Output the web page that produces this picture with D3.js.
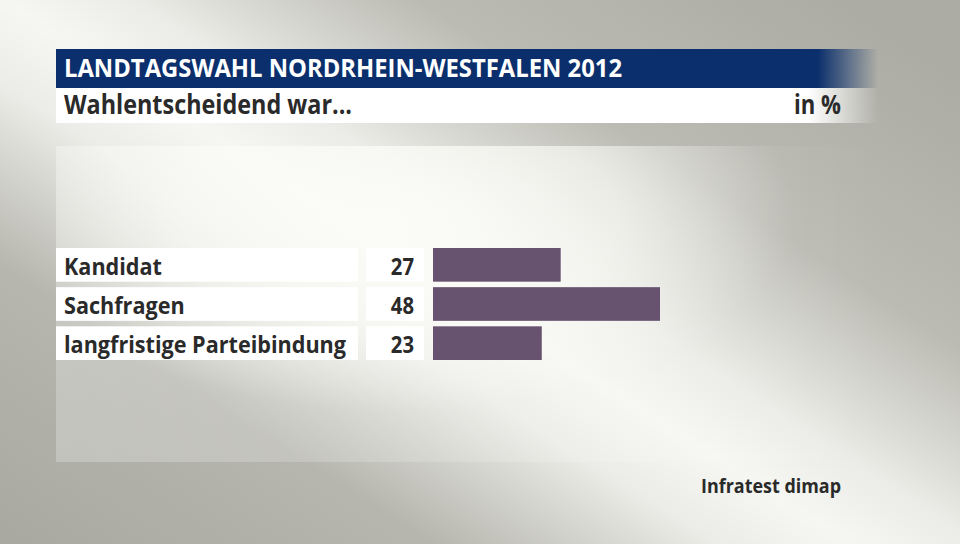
<!DOCTYPE html>
<html>
<head>
<meta charset="utf-8">
<script src="https://cdn.jsdelivr.net/npm/d3@7"></script>
<style>
html,body{margin:0;padding:0;background:#d8d8d2;}
svg{display:block;}
text{font-family:"Open Sans","Noto Sans",sans-serif;}
</style>
</head>
<body>
<svg id="chart" width="960" height="544"></svg>
<script>
const title = "LANDTAGSWAHL NORDRHEIN-WESTFALEN 2012";
const subtitle = "Wahlentscheidend war...";
const unitLabel = "in %";
const source = "Infratest dimap";
const categories = ["Kandidat", "Sachfragen", "langfristige Parteibindung"];
const values = [27, 48, 23];

const svg = d3.select("#chart");
const W = 960, H = 544;
const defs = svg.append("defs");

// diagonal light band background
const bg = defs.append("linearGradient").attr("id","bg")
  .attr("gradientUnits","userSpaceOnUse")
  .attr("x1",237).attr("y1",686).attr("x2",723).attr("y2",-72);
[[0,"#a9a9a1"],[0.25,"#b6b6ae"],[0.42,"#ebebe7"],[0.5,"#f6f6f2"],[0.58,"#ebebe7"],[0.75,"#bbbbb3"],[1,"#acaca4"]]
  .forEach(s=>bg.append("stop").attr("offset",s[0]).attr("stop-color",s[1]));
svg.append("rect").attr("width",W).attr("height",H).attr("fill","url(#bg)");

// lighter panel (base tint + bright glow in its upper-left part)
const pg = defs.append("linearGradient").attr("id","panel").attr("x1","0").attr("x2","1").attr("y1","0").attr("y2","0");
pg.append("stop").attr("offset","0").attr("stop-color","#ffffff").attr("stop-opacity",0.25);
pg.append("stop").attr("offset","0.7").attr("stop-color","#ffffff").attr("stop-opacity",0.12);
pg.append("stop").attr("offset","1").attr("stop-color","#ffffff").attr("stop-opacity",0.0);
svg.append("rect").attr("x",56).attr("y",146).attr("width",824).attr("height",316).attr("fill","url(#panel)");

const pr = defs.append("radialGradient").attr("id","panelGlow").attr("gradientUnits","userSpaceOnUse")
  .attr("cx",400).attr("cy",215).attr("r",360)
  .attr("gradientTransform","translate(400,215) scale(1.1,0.55) translate(-400,-215)");
pr.append("stop").attr("offset","0").attr("stop-color","#fbfbf7").attr("stop-opacity",0.9);
pr.append("stop").attr("offset","0.55").attr("stop-color","#fbfbf7").attr("stop-opacity",0.6);
pr.append("stop").attr("offset","1").attr("stop-color","#fbfbf7").attr("stop-opacity",0);
svg.append("rect").attr("x",56).attr("y",146).attr("width",824).attr("height",316).attr("fill","url(#panelGlow)");

// header bars
const hb = defs.append("linearGradient").attr("id","hblue").attr("gradientUnits","userSpaceOnUse")
  .attr("x1",56).attr("x2",878).attr("y1",0).attr("y2",0);
hb.append("stop").attr("offset", (818-56)/822).attr("stop-color","#0b2f6c").attr("stop-opacity",1);
hb.append("stop").attr("offset", 1).attr("stop-color","#0b2f6c").attr("stop-opacity",0);
svg.append("rect").attr("x",56).attr("y",49).attr("width",822).attr("height",39).attr("fill","url(#hblue)");

const hw = defs.append("linearGradient").attr("id","hwhite").attr("gradientUnits","userSpaceOnUse")
  .attr("x1",56).attr("x2",878).attr("y1",0).attr("y2",0);
hw.append("stop").attr("offset", (808-56)/822).attr("stop-color","#ffffff").attr("stop-opacity",1);
hw.append("stop").attr("offset", 1).attr("stop-color","#ffffff").attr("stop-opacity",0);
svg.append("rect").attr("x",56).attr("y",88).attr("width",822).attr("height",35).attr("fill","url(#hwhite)");

function fitTo(sel, target){
  sel.attr("textLength", target).attr("lengthAdjust","spacingAndGlyphs");
}
function condense(sel, k){
  sel.each(function(){
    const w = this.getComputedTextLength();
    d3.select(this).attr("textLength", w*k).attr("lengthAdjust","spacingAndGlyphs");
  });
}

svg.append("text").attr("x",64).attr("y",77).attr("fill","#ffffff")
  .attr("font-size",25).attr("font-weight",700).text(title)
  .call(fitTo, 558);

svg.append("text").attr("x",64).attr("y",114).attr("fill","#2a2a2a")
  .attr("font-size",26).attr("font-weight",700).text(subtitle)
  .call(fitTo, 288);

svg.append("text").attr("x",841).attr("y",114).attr("fill","#2a2a2a")
  .attr("font-size",26).attr("font-weight",700).attr("text-anchor","end").text(unitLabel)
  .call(condense, 0.85);

// rows
const y = d3.scaleBand().domain(categories).range([248, 360]).paddingInner(0.14).paddingOuter(0);
const x = d3.scaleLinear().domain([0, 48]).range([433, 660]);

const rows = svg.append("g").selectAll("g").data(categories).join("g");
rows.append("rect").attr("x",56).attr("y",d=>y(d)).attr("width",302).attr("height",y.bandwidth()).attr("fill","#ffffff");
rows.append("rect").attr("x",366).attr("y",d=>y(d)).attr("width",58).attr("height",y.bandwidth()).attr("fill","#ffffff");
rows.append("rect").attr("x",x(0)).attr("y",d=>y(d)).attr("width",(d,i)=>x(values[i])-x(0)).attr("height",y.bandwidth()).attr("fill","#67536f");

const labels = rows.append("text").attr("x",64).attr("y",d=>y(d)+y.bandwidth()/2+10).attr("fill","#2a2a2a")
  .attr("font-size",24).attr("font-weight",700).text(d=>d);
let maxW = 0; labels.each(function(){ maxW = Math.max(maxW, this.getComputedTextLength()); });
labels.call(condense, 282 / maxW);

rows.append("text").attr("x",414).attr("y",d=>y(d)+y.bandwidth()/2+10).attr("fill","#2a2a2a")
  .attr("font-size",23).attr("font-weight",700).attr("text-anchor","end").text((d,i)=>values[i])
  .call(condense, 0.88);

svg.append("text").attr("x",841).attr("y",493).attr("fill","#2a2a2a")
  .attr("font-size",19).attr("font-weight",700).attr("text-anchor","end").text(source)
  .call(fitTo, 140);
</script>
</body>
</html>
